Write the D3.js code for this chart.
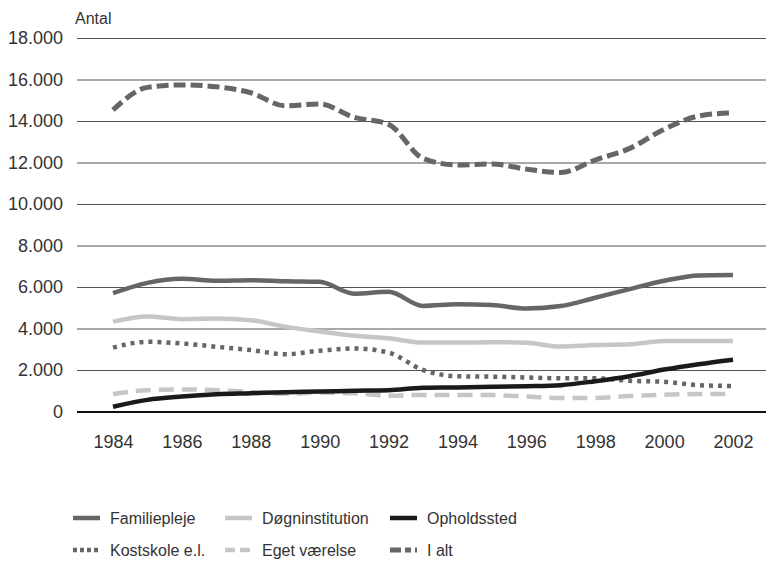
<!DOCTYPE html>
<html><head><meta charset="utf-8">
<script src="https://cdn.jsdelivr.net/npm/d3@7"></script>
<style>body{margin:0;background:#fff}svg{display:block}text{font-family:"Liberation Sans",Arial,sans-serif;fill:#333}</style>
</head><body><svg id="c" width="766" height="564"></svg>
<script>
const years = [1984,1985,1986,1987,1988,1989,1990,1991,1992,1993,1994,1995,1996,1997,1998,1999,2000,2001,2002];
const familiepleje = [5700,6200,6400,6300,6330,6280,6250,5680,5770,5090,5170,5130,4960,5080,5480,5900,6300,6560,6580];
const dognInstitution = [4330,4580,4450,4480,4400,4090,3860,3650,3530,3320,3320,3340,3310,3130,3200,3240,3400,3400,3400];
const opholdssted = [230,560,720,830,880,930,960,1000,1030,1140,1160,1190,1220,1270,1460,1700,2020,2280,2500];
const kostskole = [3080,3360,3280,3120,2960,2760,2930,3040,2840,2000,1700,1680,1640,1600,1600,1480,1430,1270,1230];
const egetVaerelse = [840,1030,1060,1030,940,850,910,880,760,800,800,790,720,650,650,750,810,840,840];
const iAlt = [14530,15620,15740,15650,15360,14730,14820,14180,13840,12200,11880,11930,11680,11520,12120,12680,13600,14240,14400];
const yTicks = [0,2000,4000,6000,8000,10000,12000,14000,16000,18000];
const xTicks = [1984,1986,1988,1990,1992,1994,1996,1998,2000,2002];

const series = [
  {name:"Familiepleje", values:familiepleje, color:"#666666", width:4.5, dash:null},
  {name:"Døgninstitution", values:dognInstitution, color:"#c6c6c6", width:4.5, dash:null},
  {name:"Opholdssted", values:opholdssted, color:"#1a1a1a", width:4.5, dash:null},
  {name:"Kostskole e.l.", values:kostskole, color:"#666666", width:4.5, dash:"4,5"},
  {name:"Eget værelse", values:egetVaerelse, color:"#c6c6c6", width:4.5, dash:"15,8"},
  {name:"I alt", values:iAlt, color:"#666666", width:5, dash:"12,5"}
];

const svg = d3.select("#c");
const x = d3.scaleLinear().domain([1984,2002]).range([113,733]);
const y = d3.scaleLinear().domain([0,18000]).range([411.5,38]);
const fmt = v => d3.format(",")(v).replace(/,/g,".");

// grid
const gridAxis = d3.axisLeft(y).tickValues(yTicks).tickSize(-(766-77)).tickFormat(fmt).tickPadding(14);
const gy = svg.append("g").attr("transform","translate(77,0)").call(gridAxis);
gy.select(".domain").remove();
gy.selectAll(".tick line").attr("stroke", d => d===0 ? "#111" : "#555").attr("stroke-width", d => d===0 ? 2.2 : 1.2);
gy.selectAll(".tick text").attr("font-size",18).attr("fill","#333").style("font-family","Liberation Sans, Arial, sans-serif");

const gx = svg.append("g").attr("transform","translate(0,411.5)").call(d3.axisBottom(x).tickValues(xTicks).tickFormat(d3.format("d")).tickSize(0).tickPadding(24));
gx.select(".domain").remove();
gx.selectAll(".tick text").attr("font-size",18).attr("fill","#333").style("font-family","Liberation Sans, Arial, sans-serif");

svg.append("text").attr("x",75).attr("y",24).attr("font-size",16).text("Antal");

const line = d3.line().x((d,i)=>x(years[i])).y(d=>y(d)).curve(d3.curveMonotoneX);
const order = [1,4,3,2,0,5];
order.forEach(k => {
  const s = series[k];
  svg.append("path").attr("d", line(s.values)).attr("fill","none").attr("stroke",s.color)
    .attr("stroke-width",s.width).attr("stroke-dasharray",s.dash).attr("stroke-linejoin","round");
});

// legend
const lx = [73,225,390], ly = [518,550];
series.forEach((s,i) => {
  const cx = lx[i%3], cy = ly[Math.floor(i/3)];
  svg.append("line").attr("x1",cx).attr("x2",cx+27).attr("y1",cy).attr("y2",cy)
    .attr("stroke",s.color).attr("stroke-width",s.width)
    .attr("stroke-dasharray", i===3 ? "4,3" : i===4 ? "10,5" : i===5 ? "11,4,6,4" : null);
  svg.append("text").attr("x",cx+37).attr("y",cy+6).attr("font-size",16).text(s.name);
});
</script></body></html>
